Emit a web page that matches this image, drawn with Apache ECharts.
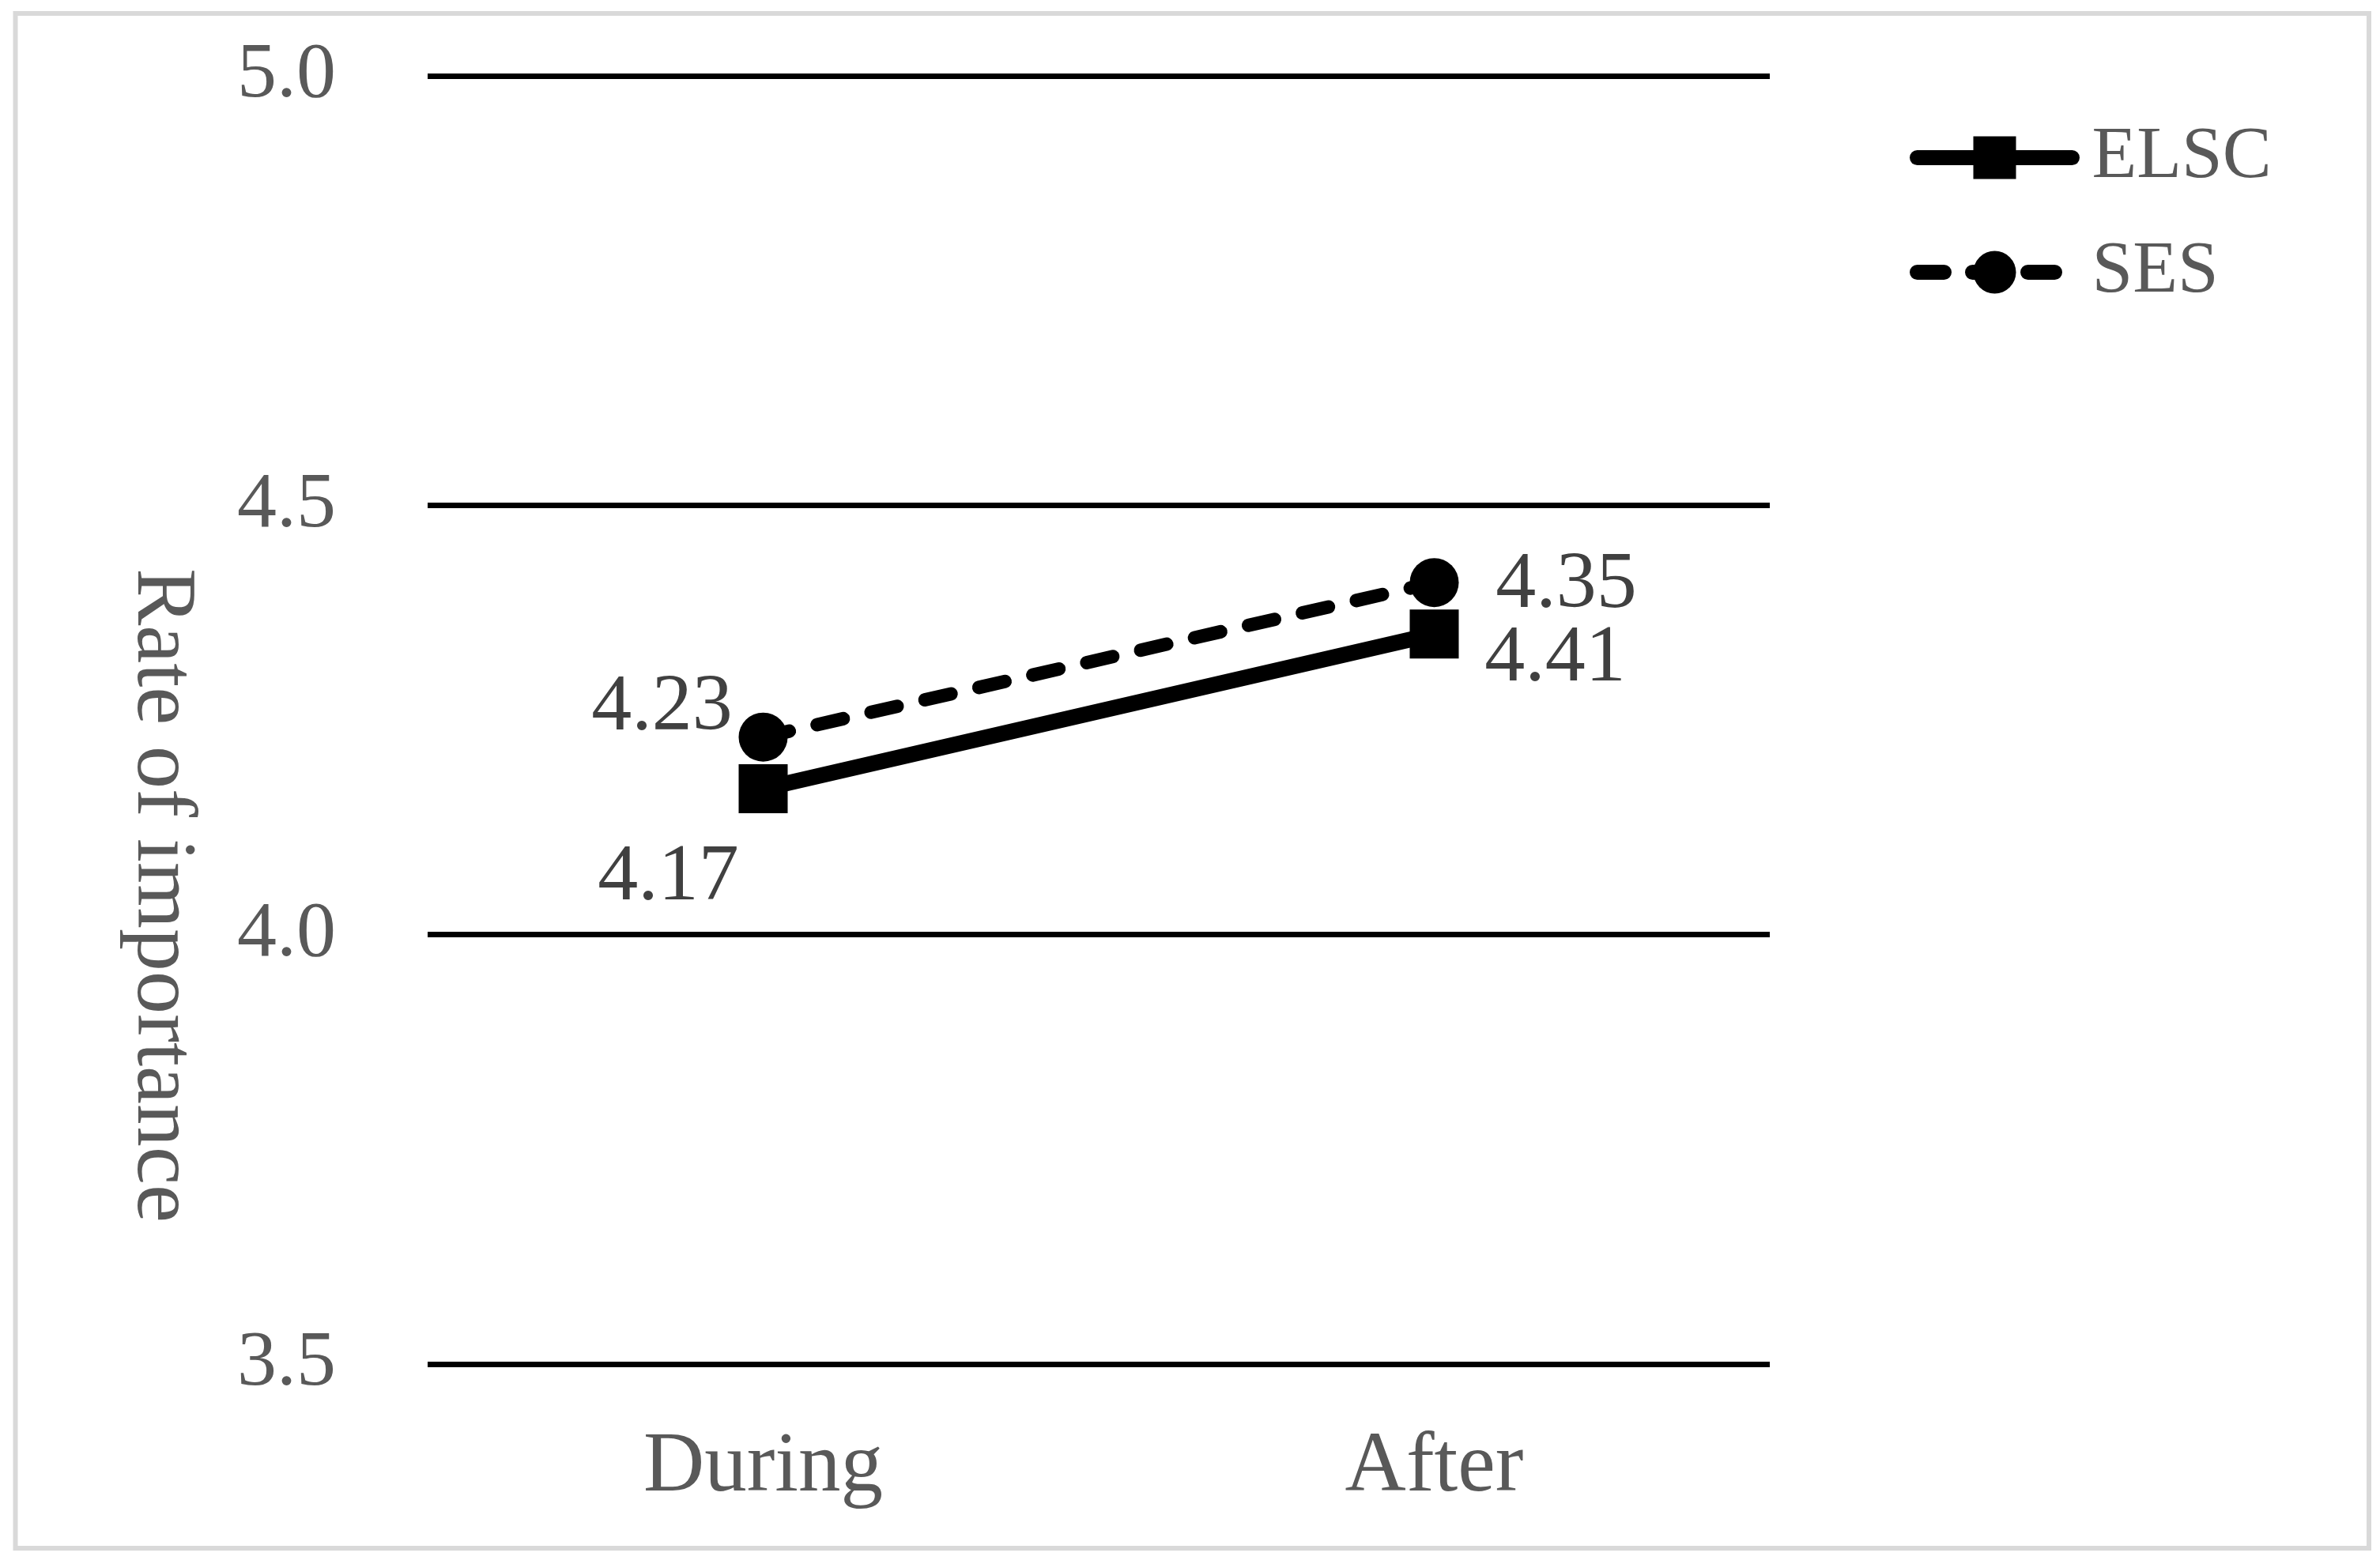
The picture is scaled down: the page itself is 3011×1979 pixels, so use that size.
<!DOCTYPE html>
<html><head><meta charset="utf-8">
<script src="https://cdn.jsdelivr.net/npm/echarts@6/dist/echarts.min.js"></script>
<style>html,body{margin:0;padding:0;background:#fff}#c{width:3011px;height:1979px}</style>
</head><body><div id="c"></div>
<script>
// ---- data ----
const categories = ['During', 'After'];
const seriesNames = ['ELSC', 'SES'];
const elscValues = [4.17, 4.35];
const sesValues = [4.23, 4.41];
// label texts exactly as printed in the figure
const elscLabels = ['4.17', '4.41'];
const sesLabels = ['4.23', '4.35'];
const yTicks = [3.5, 4.0, 4.5, 5.0];
const yTitle = 'Rate of importance';

// ---- layout (not data) ----
const FONT = 'Liberation Serif';
const elscLabelOffsets = [[-120, 113], [153, 32]];
const sesLabelOffsets = [[-128, -37], [167, 4]];

function buildData(values, labels, offsets) {
  return values.map((v, i) => ({
    value: v,
    label: { formatter: labels[i], offset: offsets[i] }
  }));
}

const labelStyle = {
  show: true, position: 'inside', color: '#404040',
  fontFamily: FONT, fontSize: 102, align: 'center', verticalAlign: 'middle'
};

const chart = echarts.init(document.getElementById('c'), null, { renderer: 'canvas' });
chart.setOption({
  backgroundColor: '#ffffff',
  animation: false,
  grid: { left: 541, right: 772, top: 96, bottom: 253, containLabel: false },
  xAxis: {
    type: 'category', data: categories, boundaryGap: true,
    axisLine: { show: false }, axisTick: { show: false },
    axisLabel: { color: '#595959', fontFamily: FONT, fontSize: 107, margin: 78 }
  },
  yAxis: {
    type: 'value', min: yTicks[0], max: yTicks[yTicks.length - 1], interval: 0.5,
    axisLine: { show: false }, axisTick: { show: false },
    axisLabel: { color: '#595959', fontFamily: FONT, fontSize: 100, margin: 116,
      formatter: v => v.toFixed(1) },
    splitLine: { show: true, lineStyle: { color: '#000000', width: 7 } }
  },
  legend: {
    orient: 'vertical', left: 2411, top: 148, itemGap: 52,
    itemWidth: 196, itemHeight: 67.5,
    data: seriesNames,
    lineStyle: { width: 19 },
    textStyle: { color: '#595959', fontFamily: FONT, fontSize: 93, lineHeight: 67, padding: [0, 0, 0, 20] }
  },
  graphic: [
    { type: 'rect', silent: true, z: -1,
      shape: { x: 19.5, y: 17, width: 2977.5, height: 1942 },
      style: { fill: 'none', stroke: '#d9d9d9', lineWidth: 6 } },
    { type: 'text', x: 203, y: 1133, rotation: -Math.PI / 2,
      style: { text: yTitle, fill: '#595959', font: '108px "' + FONT + '"',
        textAlign: 'center', textVerticalAlign: 'middle' } }
  ],
  series: [
    { name: seriesNames[0], type: 'line',
      data: buildData(elscValues, elscLabels, elscLabelOffsets),
      symbol: 'rect', symbolSize: 62,
      lineStyle: { color: '#000', width: 20, type: 'solid', cap: 'round' },
      itemStyle: { color: '#000' },
      label: labelStyle, z: 3 },
    { name: seriesNames[1], type: 'line',
      data: buildData(sesValues, sesLabels, sesLabelOffsets),
      symbol: 'circle', symbolSize: 62,
      lineStyle: { color: '#000', width: 17, type: [34, 36], cap: 'round' },
      itemStyle: { color: '#000' },
      label: labelStyle, z: 3 }
  ]
});
</script>
</body></html>
